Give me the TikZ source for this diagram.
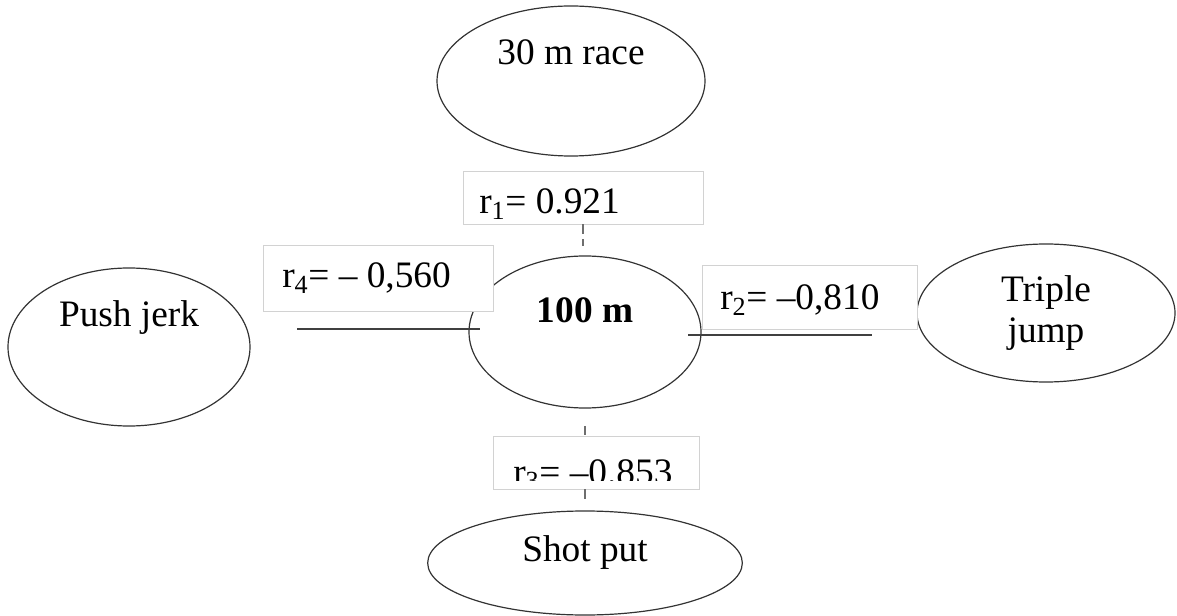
\documentclass[tikz,border=0pt]{standalone}
\usepackage{fontspec}
\setmainfont{Liberation Serif}
\usetikzlibrary{positioning, shapes.geometric}

\begin{document}
\begin{tikzpicture}[
    x=0.75pt, y=-0.75pt,
    event_node/.style={ellipse, draw=black!80, line width=0.9pt, inner sep=0pt},
    corr_box/.style={rectangle, draw=cbox, fill=white, line width=0.7pt, inner sep=0pt},
    corr_text/.style={anchor=base west, inner sep=0pt},
    name_text/.style={inner sep=0pt, align=center},
    dash_link/.style={draw=clink, line width=1.8pt, dash pattern=on 7pt off 4pt},
    solid_link/.style={draw=black!75, line width=1.1pt}
]
  \fontsize{28}{31}\selectfont

  % --- Color Definitions ---
  \definecolor{cbox}{RGB}{210, 210, 210}   % box border
  \definecolor{clink}{RGB}{110, 110, 110}  % dashed link

  \useasboundingbox (0,0) rectangle (1177,616);

  % --- Events ---
  \node[event_node, minimum width=201pt, minimum height=112.5pt] (race30) at (571,81) {};
  \node[name_text] at ([yshift=21.75pt]race30.center) {30 m race};

  \node[event_node, minimum width=174pt, minimum height=114pt] (m100) at (585,332) {};
  \node[name_text, font=\bfseries] at ([yshift=16.5pt]m100.center) {100 m};

  \node[event_node, minimum width=181.5pt, minimum height=118.5pt] (pushjerk) at (129,347) {};
  \node[name_text] at ([yshift=21.75pt]pushjerk.center) {Push jerk};

  \node[event_node, minimum width=193.5pt, minimum height=103.5pt] (triplejump) at (1046,313) {};
  \node[name_text] at (triplejump.center) {Triple\\jump};

  \node[event_node, minimum width=236pt, minimum height=78pt] (shotput) at (585,563) {};
  \node[name_text] at ([yshift=8pt]shotput.center) {Shot put};

  % --- Correlation boxes ---
  \node[corr_box, minimum width=180pt, minimum height=39.75pt] (r1) at (583,197.5) {};
  \node[corr_text] at (479,214) {r\textsubscript{1}= 0.921};

  \node[corr_box, minimum width=172.5pt, minimum height=49.5pt] (r4) at (378,278) {};
  \node[corr_text] at (282,288) {r\textsubscript{4}= \textendash{} 0,560};

  \node[corr_box, minimum width=161.25pt, minimum height=48pt] (r2) at (809.5,297) {};
  \node[corr_text] at (720,310) {r\textsubscript{2}= \textendash0,810};

  \node[corr_box, minimum width=154.5pt, minimum height=39.75pt] (r3) at (596,462.5) {};
  \begin{scope}
    \clip (493,436) rectangle (699,480);
    \node[corr_text] at (513,484) {r\textsubscript{3}= \textendash0.853};
  \end{scope}

  % --- Links ---
  \coordinate (r4_tail) at (297,329);
  \coordinate (r2_tail) at (872,335);

  \draw[dash_link, shorten >=7pt] (r1.south) -- (r1.south |- m100.north);
  \draw[dash_link, shorten <=13pt] (m100.south) -- (m100.south |- r3.north);
  \draw[dash_link, shorten >=5pt] (m100.south |- r3.south) -- (shotput.north);
  \draw[solid_link] (r4_tail) -- ([xshift=9pt]m100.west |- r4_tail);
  \draw[solid_link] ([xshift=-10pt]m100.east |- r2_tail) -- (r2_tail);

\end{tikzpicture}
\end{document}
